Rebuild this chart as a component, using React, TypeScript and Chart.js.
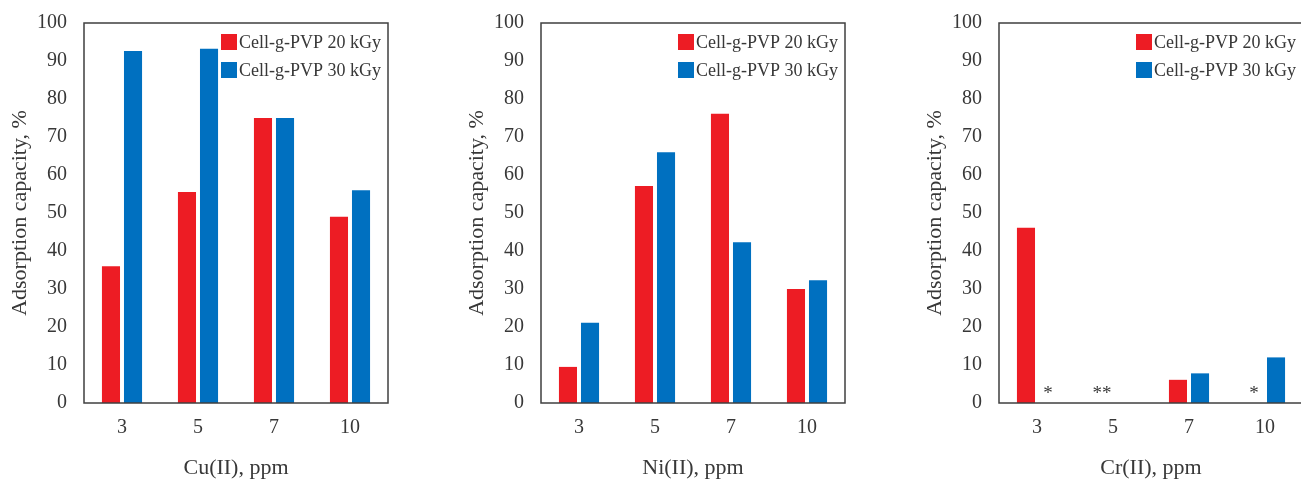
import { useEffect, useRef } from 'react';
import { Chart, registerables } from 'chart.js';

Chart.register(...registerables);

const categories = ['3', '5', '7', '10'];
const seriesLabels = ['Cell-g-PVP 20 kGy', 'Cell-g-PVP 30 kGy'];
const seriesColors = ['#ED1C24', '#0070C0'];
const yTitle = 'Adsorption capacity, %';

const cu20 = [36, 55.5, 75, 49];
const cu30 = [92.6, 93.2, 75, 56];
const ni20 = [9.5, 57.1, 76.1, 30];
const ni30 = [21.1, 66, 42.3, 32.3];
const cr20: (number | null)[] = [46.1, null, 6.1, null];
const cr30: (number | null)[] = [null, null, 7.8, 12];
const cr20Notes = ['', '**', '', '*'];
const cr30Notes = ['*', '', '', ''];
const emptyNotes = ['', '', '', ''];

const xTitles = ['Cu(II), ppm', 'Ni(II), ppm', 'Cr(II), ppm'];

const FONT = "'Liberation Serif', 'Times New Roman', serif";
const TEXT = '#383838';

const PANEL_W = 457;
const PANEL_H = 481;

const framePlugin = {
  id: 'frame',
  afterDatasetsDraw(chart: any) {
    const { ctx, chartArea: a } = chart;
    ctx.save();
    ctx.strokeStyle = '#3f3f3f';
    ctx.lineWidth = 1.5;
    ctx.strokeRect(a.left, a.top, a.right - a.left, a.bottom - a.top);
    ctx.restore();
  },
};

const legendPlugin = {
  id: 'innerLegend',
  afterDraw(chart: any) {
    const { ctx, chartArea: a } = chart;
    ctx.save();
    ctx.font = `18px ${FONT}`;
    ctx.textBaseline = 'middle';
    ctx.textAlign = 'left';
    chart.data.datasets.forEach((ds: any, i: number) => {
      const y = a.top + 19 + i * 28;
      const w = ctx.measureText(ds.label).width;
      const tx = a.right - 7 - w;
      ctx.fillStyle = ds.backgroundColor;
      ctx.fillRect(tx - 18, y - 8, 16, 16);
      ctx.fillStyle = TEXT;
      ctx.fillText(ds.label, tx, y + 1);
    });
    ctx.restore();
  },
};

const notesPlugin = {
  id: 'notes',
  afterDatasetsDraw(chart: any) {
    const { ctx } = chart;
    const notes: string[][] = chart.options.plugins.notes?.items || [];
    const yBase = chart.scales.y.getPixelForValue(0);
    ctx.save();
    ctx.font = `19px ${FONT}`;
    ctx.fillStyle = TEXT;
    ctx.textAlign = 'center';
    ctx.textBaseline = 'alphabetic';
    notes.forEach((list, di) => {
      const meta = chart.getDatasetMeta(di);
      list.forEach((n, j) => {
        if (!n) return;
        const el = meta.data[j];
        if (!el) return;
        ctx.fillText(n, el.x, yBase - 4);
      });
    });
    ctx.restore();
  },
};

function Panel(props: {
  left: number;
  d20: (number | null)[];
  d30: (number | null)[];
  n20: string[];
  n30: string[];
  xTitle: string;
}) {
  const ref = useRef<HTMLCanvasElement | null>(null);
  useEffect(() => {
    if (!ref.current) return;
    const chart = new Chart(ref.current, {
      type: 'bar',
      data: {
        labels: categories,
        datasets: [
          {
            label: seriesLabels[0],
            data: props.d20,
            backgroundColor: seriesColors[0],
            categoryPercentage: 0.58,
            barPercentage: 0.82,
          },
          {
            label: seriesLabels[1],
            data: props.d30,
            backgroundColor: seriesColors[1],
            categoryPercentage: 0.58,
            barPercentage: 0.82,
          },
        ],
      },
      options: {
        animation: false,
        responsive: false,
        maintainAspectRatio: false,
        layout: { padding: { top: 23, right: PANEL_W - 388, bottom: 0, left: 0 } },
        plugins: {
          legend: { display: false },
          tooltip: { enabled: false },
          notes: { items: [props.n20, props.n30] },
        } as any,
        scales: {
          x: {
            grid: { display: false, drawTicks: false },
            border: { display: false },
            ticks: { font: { family: FONT, size: 20 }, color: TEXT, padding: 13 },
            title: {
              display: true,
              text: props.xTitle,
              font: { family: FONT, size: 22 },
              color: TEXT,
              padding: { top: 0, bottom: 0 },
            },
            afterFit: (s: any) => {
              s.height = 78;
              s.paddingLeft = 0;
              s.paddingRight = 0;
            },
          },
          y: {
            min: 0,
            max: 100,
            grid: { display: false, drawTicks: false },
            border: { display: false },
            ticks: { stepSize: 10, font: { family: FONT, size: 20 }, color: TEXT, padding: 17 },
            title: {
              display: true,
              text: yTitle,
              font: { family: FONT, size: 22 },
              color: TEXT,
              padding: { top: 7, bottom: 0 },
            },
            afterFit: (s: any) => {
              s.width = 84;
              s.paddingTop = 0;
              s.paddingBottom = 0;
            },
          },
        },
      },
      plugins: [framePlugin, legendPlugin, notesPlugin],
    });
    return () => chart.destroy();
  }, []);
  return (
    <canvas
      ref={ref}
      width={PANEL_W}
      height={PANEL_H}
      style={{ position: 'absolute', left: props.left, top: 0, width: PANEL_W, height: PANEL_H, display: 'block' }}
    />
  );
}

export default function App() {
  return (
    <div
      style={{
        position: 'fixed',
        left: 0,
        top: 0,
        width: 1301,
        height: 481,
        overflow: 'hidden',
        background: '#ffffff',
      }}
    >
      <Panel left={0} d20={cu20} d30={cu30} n20={emptyNotes} n30={emptyNotes} xTitle={xTitles[0]} />
      <Panel left={457} d20={ni20} d30={ni30} n20={emptyNotes} n30={emptyNotes} xTitle={xTitles[1]} />
      <Panel left={915} d20={cr20} d30={cr30} n20={cr20Notes} n30={cr30Notes} xTitle={xTitles[2]} />
    </div>
  );
}
